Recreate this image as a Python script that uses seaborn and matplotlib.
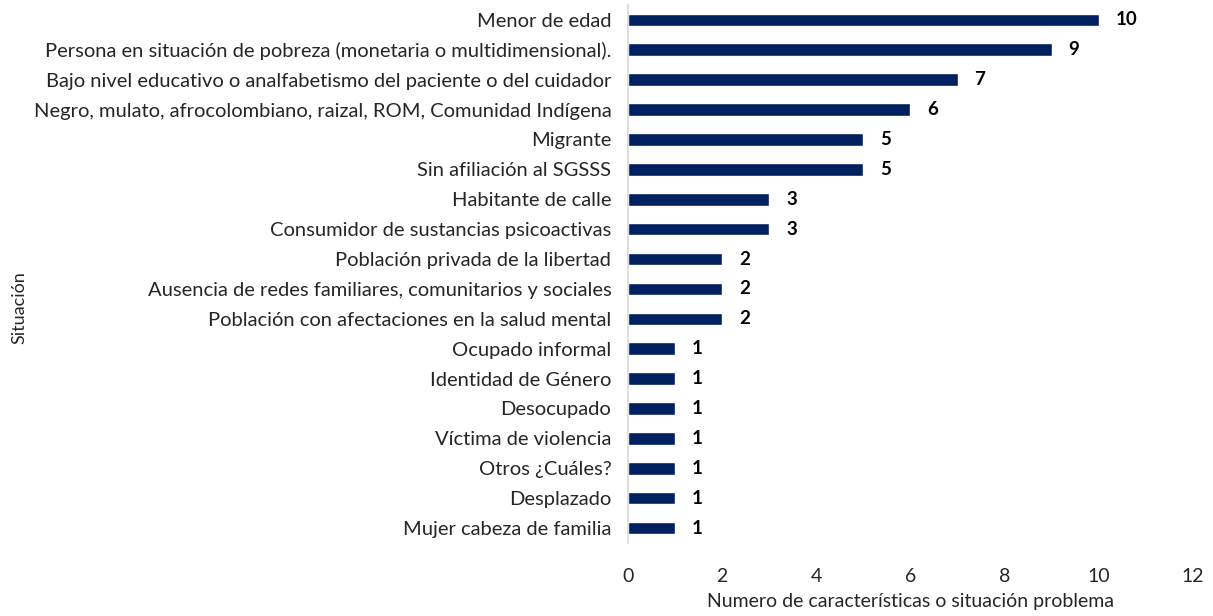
import matplotlib.pyplot as plt
import pandas as pd
import seaborn as sns

sns.set_style('white')
plt.rcParams['font.family'] = ['Lato', 'DejaVu Sans']

# Data
situaciones = [
    'Menor de edad',
    'Persona en situación de pobreza (monetaria o multidimensional).',
    'Bajo nivel educativo o analfabetismo del paciente o del cuidador',
    'Negro, mulato, afrocolombiano, raizal, ROM, Comunidad Indígena',
    'Migrante',
    'Sin afiliación al SGSSS',
    'Habitante de calle',
    'Consumidor de sustancias psicoactivas',
    'Población privada de la libertad',
    'Ausencia de redes familiares, comunitarios y sociales',
    'Población con afectaciones en la salud mental',
    'Ocupado informal',
    'Identidad de Género',
    'Desocupado',
    'Víctima de violencia',
    'Otros ¿Cuáles?',
    'Desplazado',
    'Mujer cabeza de familia',
]
conteos = [10, 9, 7, 6, 5, 5, 3, 3, 2, 2, 2, 1, 1, 1, 1, 1, 1, 1]

df = pd.DataFrame({'situacion': situaciones, 'n': conteos})

fig = plt.figure(figsize=(12.13, 6.16), dpi=100)
ax = fig.add_axes([0.5177, 0.1185, 0.4658, 0.8735])

sns.barplot(data=df, x='n', y='situacion', color='#002060', width=0.42,
            saturation=1, ax=ax)

for i, v in enumerate(conteos):
    ax.text(v + 0.36, i, str(v), va='center', ha='left',
            fontsize=13.5, fontweight='bold', color='black')

ax.set_xlim(0, 12)
ax.set_xticks(range(0, 13, 2))
ax.tick_params(axis='x', labelsize=14, length=0, pad=18)
ax.tick_params(axis='y', labelsize=14.5, length=0, pad=12)
for s in ['top', 'right', 'bottom']:
    ax.spines[s].set_visible(False)
ax.spines['left'].set_color('#d9d9d9')
ax.spines['left'].set_linewidth(1.2)

ax.set_xlabel('Numero de características o situación problema', fontsize=14, labelpad=6)
ax.set_ylabel('')
fig.text(0.016, 0.5, 'Situación', rotation=90, va='center', ha='center', fontsize=13)

plt.savefig('out.png', dpi=100)
plt.close()
